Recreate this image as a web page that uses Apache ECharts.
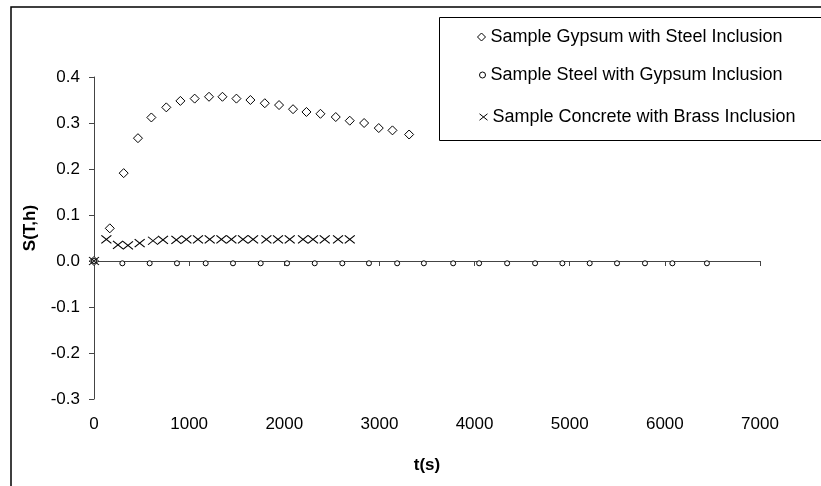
<!DOCTYPE html>
<html>
<head>
<meta charset="utf-8">
<script src="https://cdn.jsdelivr.net/npm/echarts@6/dist/echarts.min.js"></script>
<style>
  html, body { margin: 0; padding: 0; background: #fff; }
  #chart { width: 821px; height: 486px; }
</style>
</head>
<body>
<div id="chart"></div>
<script>
// values
var gypsumT = [0, 166, 312, 462, 603, 760, 908, 1058, 1209, 1350, 1497, 1644, 1795, 1945, 2092, 2233, 2380, 2541, 2688, 2839, 2993, 3137, 3312]
var gypsumS = [0, 0.071, 0.191, 0.267, 0.312, 0.334, 0.348, 0.353, 0.357, 0.357, 0.353, 0.350, 0.343, 0.339, 0.330, 0.324, 0.320, 0.313, 0.305, 0.300, 0.289, 0.284, 0.275]

var steelT = [0, 298, 585, 872, 1174, 1461, 1752, 2029, 2320, 2610, 2890, 3186, 3467, 3775, 4048, 4342, 4636, 4923, 5210, 5497, 5791, 6079, 6442]
var steelS = [0, -0.005, -0.005, -0.005, -0.005, -0.005, -0.005, -0.005, -0.005, -0.005, -0.005, -0.005, -0.005, -0.005, -0.005, -0.005, -0.005, -0.005, -0.005, -0.005, -0.005, -0.005, -0.005]

var concreteT = [0, 130, 252, 357, 480, 620, 725, 866, 971, 1093, 1216, 1339, 1444, 1566, 1672, 1812, 1934, 2057, 2197, 2302, 2425, 2565, 2688]
var concreteS = [0, 0.047, 0.035, 0.034, 0.039, 0.044, 0.046, 0.046, 0.047, 0.047, 0.047, 0.047, 0.047, 0.047, 0.047, 0.047, 0.047, 0.047, 0.047, 0.047, 0.047, 0.047, 0.047]

var seriesNames = ['Sample Gypsum with Steel Inclusion', 'Sample Steel with Gypsum Inclusion', 'Sample Concrete with Brass Inclusion']
var xTicks = [0, 1000, 2000, 3000, 4000, 5000, 6000, 7000]
var yTicks = [-0.3, -0.2, -0.1, 0.0, 0.1, 0.2, 0.3, 0.4]

function pairs (xs, ys) {
  return xs.map(function (x, i) { return [x, ys[i]] })
}

var font = 'Liberation Sans, Arial, sans-serif'
var crossPath = 'path://M0,0L10,8M10,0L0,8'
var hollow = { color: '#fff', borderColor: '#000', borderWidth: 1, opacity: 1 }

var chart = echarts.init(document.getElementById('chart'))

function legendAt (name, top, size, icon, style) {
  return {
    data: [{ name: name, icon: icon, itemStyle: style }],
    left: 485 - size,
    top: top,
    padding: 0,
    itemWidth: size,
    itemHeight: size,
    textStyle: { fontFamily: font, fontSize: 18, color: '#000', lineHeight: 18 }
  }
}

var option = {
  animation: false,
  backgroundColor: '#fff',
  grid: { left: 94, right: 61, top: 77, bottom: 87 },
  legend: [
    legendAt(seriesNames[0], 28, 8, 'diamond', hollow),
    legendAt(seriesNames[1], 66, 6, 'circle', hollow),
    legendAt(seriesNames[2], 108, 8, crossPath, { color: 'none', borderColor: '#000', borderWidth: 1 })
  ],
  graphic: [
    // outer chart frame (cut off on the right and bottom)
    { type: 'rect', shape: { x: 11, y: 7, width: 840, height: 500 }, style: { fill: 'none', stroke: '#000', lineWidth: 1.5 }, silent: true },
    // legend box
    { type: 'rect', shape: { x: 439.5, y: 17.5, width: 400, height: 123 }, style: { fill: 'none', stroke: '#000', lineWidth: 1 }, silent: true }
  ],
  xAxis: [
    {
      // labels along the bottom
      type: 'value',
      min: xTicks[0],
      max: xTicks[xTicks.length - 1],
      interval: 1000,
      position: 'bottom',
      name: 't(s)',
      nameLocation: 'middle',
      nameGap: 58,
      nameTextStyle: { fontFamily: font, fontSize: 17, fontWeight: 'bold', color: '#000' },
      axisLine: { show: false, onZero: false },
      axisTick: { show: false },
      splitLine: { show: false },
      axisLabel: {
        margin: 17,
        fontFamily: font,
        fontSize: 17,
        color: '#000',
        formatter: function (v) { return String(v) }
      }
    },
    {
      // the line itself sits on y = 0
      type: 'value',
      min: xTicks[0],
      max: xTicks[xTicks.length - 1],
      interval: 1000,
      position: 'top',
      axisLine: { show: true, onZero: true, lineStyle: { color: '#444', width: 1 } },
      axisTick: { show: true, inside: true, length: 5, lineStyle: { color: '#444' } },
      axisLabel: { show: false },
      splitLine: { show: false }
    }
  ],
  yAxis: {
    type: 'value',
    min: yTicks[0],
    max: yTicks[yTicks.length - 1],
    interval: 0.1,
    name: 'S(T,h)',
    nameLocation: 'middle',
    nameGap: 55,
    nameTextStyle: { fontFamily: font, fontSize: 17, fontWeight: 'bold', color: '#000', padding: [0, 0, 0, 20] },
    axisLine: { show: true, onZero: false, lineStyle: { color: '#444', width: 1 } },
    axisTick: { show: true, length: 5, lineStyle: { color: '#444' } },
    splitLine: { show: false },
    axisLabel: {
      margin: 14,
      fontFamily: font,
      fontSize: 17,
      color: '#000',
      formatter: function (v) { return v.toFixed(1) }
    }
  },
  series: [
    {
      name: seriesNames[0],
      type: 'scatter',
      data: pairs(gypsumT, gypsumS),
      symbol: 'diamond',
      symbolSize: 9,
      itemStyle: hollow
    },
    {
      name: seriesNames[1],
      type: 'scatter',
      data: pairs(steelT, steelS),
      symbol: 'circle',
      symbolSize: 5,
      itemStyle: hollow
    },
    {
      name: seriesNames[2],
      type: 'scatter',
      data: pairs(concreteT, concreteS),
      symbol: crossPath,
      symbolSize: [10, 8],
      itemStyle: { color: 'none', borderColor: '#000', borderWidth: 1, opacity: 1 }
    }
  ]
}

chart.setOption(option)
</script>
</body>
</html>
